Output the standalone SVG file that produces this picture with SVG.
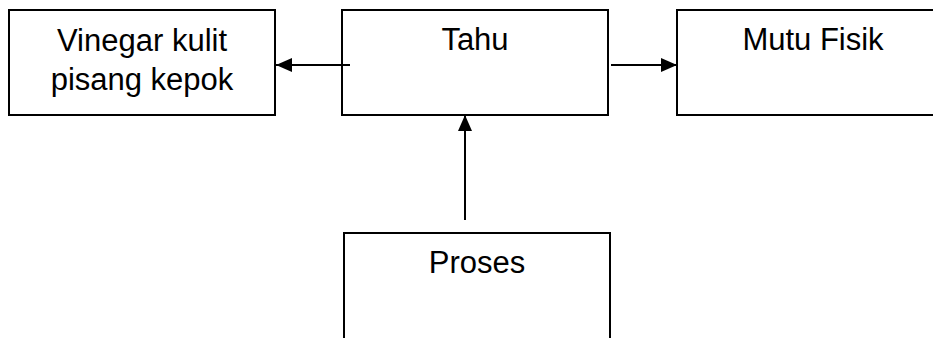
<svg xmlns="http://www.w3.org/2000/svg" width="933" height="338" viewBox="0 0 933 338">
  <style>
    .box { fill: #ffffff; stroke: #000000; stroke-width: 2; }
    .label { font-family: "Liberation Sans", Arial, sans-serif; font-size: 31px; fill: #000000; text-anchor: middle; }
    .edge { stroke: #000000; stroke-width: 2; fill: none; marker-end: url(#arrow); }
  </style>
  <defs>
    <marker id="arrow" markerWidth="8" markerHeight="7" refX="8" refY="3.5" orient="auto" markerUnits="strokeWidth">
      <path d="M0,0 L8,3.5 L0,7 Z" fill="#000000"/>
    </marker>
  </defs>
  <rect width="933" height="338" fill="#ffffff"/>

  <g id="vinegar">
    <rect class="box" x="9" y="10" width="266" height="105"/>
    <text class="label" x="142" y="51">Vinegar kulit</text>
    <text class="label" x="142" y="90">pisang kepok</text>
  </g>

  <g id="tahu">
    <rect class="box" x="342" y="10" width="266" height="105"/>
    <text class="label" x="475" y="50">Tahu</text>
  </g>

  <g id="mutu-fisik">
    <rect class="box" x="677" y="10" width="272" height="105"/>
    <text class="label" x="813" y="50">Mutu Fisik</text>
  </g>

  <g id="proses">
    <rect class="box" x="344" y="233" width="266" height="120"/>
    <text class="label" x="477" y="273">Proses</text>
  </g>

  <g id="connectors">
    <line class="edge" x1="350" y1="65" x2="276" y2="65"/>
    <line class="edge" x1="611" y1="65" x2="677" y2="65"/>
    <line class="edge" x1="465" y1="220" x2="465" y2="115"/>
  </g>
</svg>
